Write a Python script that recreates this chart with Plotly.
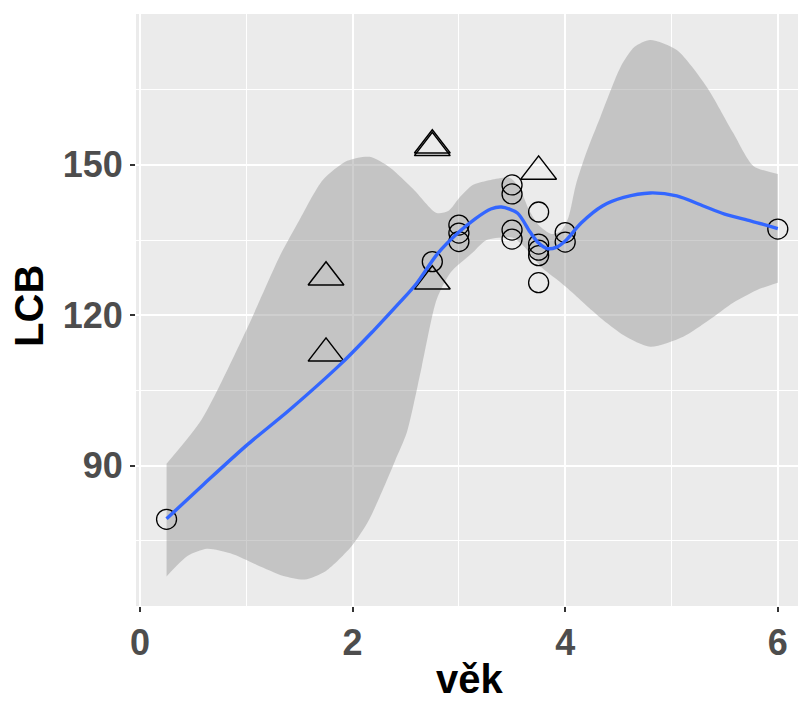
import plotly.graph_objects as go

# ---------------- data ----------------
circle_x = [0.25, 2.75, 3.0, 3.0, 3.0, 3.5, 3.5, 3.5, 3.5, 3.75, 3.75, 3.75, 3.75, 3.75, 4.0, 4.0, 6.0]
circle_y = [79.3, 130.7, 138.0, 136.4, 134.7, 146.0, 144.2, 137.0, 135.2, 140.6, 134.2, 133.0, 131.9, 126.5, 136.5, 134.6, 137.2]

tri_x = [1.75, 1.75, 2.75, 2.75, 2.75, 3.75]
tri_y = [127.6, 112.4, 153.4, 153.9, 126.8, 148.7]

fit_x = [0.25, 0.6, 1.0, 1.4, 1.9, 2.2, 2.45, 2.6, 2.8, 3.0, 3.15, 3.3, 3.4, 3.55, 3.67,
         3.75, 3.83, 3.92, 4.0, 4.15, 4.35, 4.55, 4.8, 5.05, 5.3, 5.5, 5.75, 6.0]
fit_y = [79.4, 86.3, 94.0, 101.0, 110.5, 117.0, 122.7, 126.3, 132.3, 136.6, 139.2, 141.2, 141.6, 140.4, 136.6,
         134.4, 133.3, 133.6, 134.8, 138.4, 141.8, 143.5, 144.4, 143.8, 141.8, 140.2, 138.8, 137.3]

upper_x = [0.25, 0.58, 1.0, 1.32, 1.5, 1.72, 1.95, 2.16, 2.35, 2.57, 2.79, 2.9, 3.01, 3.13, 3.3,
           3.48, 3.57, 3.66, 3.75, 3.87, 3.96, 4.03, 4.1, 4.2, 4.33, 4.52, 4.65, 4.8, 5.05, 5.33,
           5.58, 5.77, 6.0]
upper_y = [90.4, 99.2, 117.0, 132.0, 139.0, 147.0, 150.8, 151.6, 149.5, 145.2, 140.4, 140.8, 143.6, 146.0, 147.0,
           147.4, 145.4, 141.0, 138.0, 136.2, 136.8, 139.5, 146.0, 152.5, 159.5, 169.5, 173.5, 174.9, 172.9, 165.6,
           156.4, 149.8, 148.2]

lower_x = [0.25, 0.45, 0.63, 0.85, 1.1, 1.35, 1.55, 1.75, 1.99, 2.15, 2.28, 2.4, 2.51, 2.65, 2.79,
           2.92, 3.13, 3.26, 3.5, 3.6, 3.7, 3.77, 3.9, 4.0, 4.25, 4.33, 4.55, 4.8, 5.11, 5.35,
           5.58, 5.8, 6.0]
lower_y = [67.9, 72.0, 73.4, 72.5, 70.2, 68.0, 67.3, 69.0, 73.9, 79.0, 85.0, 91.0, 96.6, 109.7, 123.1,
           128.5, 132.5, 135.0, 135.5, 134.0, 131.5, 129.7, 127.5, 125.8, 121.0, 119.5, 116.0, 113.7, 115.7, 119.0,
           122.5, 125.0, 126.5]

x_ticks = [0, 2, 4, 6]
y_ticks = [90, 120, 150]
x_title = "věk"
y_title = "LCB"

# ---------------- figure ----------------
fig = go.Figure()

fig.add_trace(go.Scatter(x=upper_x, y=upper_y, mode="lines",
                         line=dict(width=0, shape="spline", smoothing=0.7),
                         showlegend=False, hoverinfo="skip"))
fig.add_trace(go.Scatter(x=lower_x, y=lower_y, mode="lines",
                         line=dict(width=0, shape="spline", smoothing=0.7),
                         fill="tonexty", fillcolor="rgba(153,153,153,0.47)",
                         showlegend=False, hoverinfo="skip"))

fig.add_trace(go.Scatter(x=circle_x, y=circle_y, mode="markers",
                         marker=dict(symbol="circle-open", size=20, color="black",
                                     line=dict(width=1.3, color="black")),
                         showlegend=False))
fig.add_trace(go.Scatter(x=tri_x, y=tri_y, mode="markers",
                         marker=dict(symbol="triangle-up-open", size=31, color="black",
                                     line=dict(width=1.5, color="black")),
                         showlegend=False))

fig.add_trace(go.Scatter(x=fit_x, y=fit_y, mode="lines",
                         line=dict(color="#3366FF", width=3.4, shape="spline", smoothing=0.8),
                         showlegend=False))

tick_font = dict(family="Liberation Sans", size=36, color="#4D4D4D", weight="bold")
title_font = dict(family="Liberation Sans", size=40, color="black", weight="bold")

fig.update_layout(
    width=798, height=703,
    margin=dict(l=136, r=0, t=14, b=97),
    paper_bgcolor="white",
    plot_bgcolor="#EBEBEB",
    showlegend=False,
    xaxis=dict(range=[-0.0375, 6.19], tickvals=x_ticks, ticktext=[str(v) for v in x_ticks],
               showgrid=True, gridcolor="white", gridwidth=2, zeroline=False,
               ticks="outside", ticklen=5, tickwidth=2, tickcolor="#333333",
               tickfont=tick_font, showline=False,
               minor=dict(dtick=1, tick0=0, showgrid=True, gridcolor="white", gridwidth=1, ticks="")),
    yaxis=dict(range=[62.0, 180.1], tickvals=y_ticks, ticktext=[str(v) for v in y_ticks],
               showgrid=True, gridcolor="white", gridwidth=2, zeroline=False,
               ticks="outside", ticklen=5, tickwidth=2, tickcolor="#333333",
               tickfont=tick_font, showline=False,
               minor=dict(dtick=15, tick0=0, showgrid=True, gridcolor="white", gridwidth=1, ticks="")),
    annotations=[
        dict(text=x_title, xref="paper", yref="paper", x=0.5045, y=-0.1625,
             xanchor="center", yanchor="bottom", showarrow=False, font=title_font,
             borderpad=0),
        dict(text=y_title, xref="paper", yref="paper", x=-0.1616, y=0.507,
             xanchor="center", yanchor="middle", showarrow=False, font=title_font, textangle=-90),
    ],
)

fig.write_html("out.html")
